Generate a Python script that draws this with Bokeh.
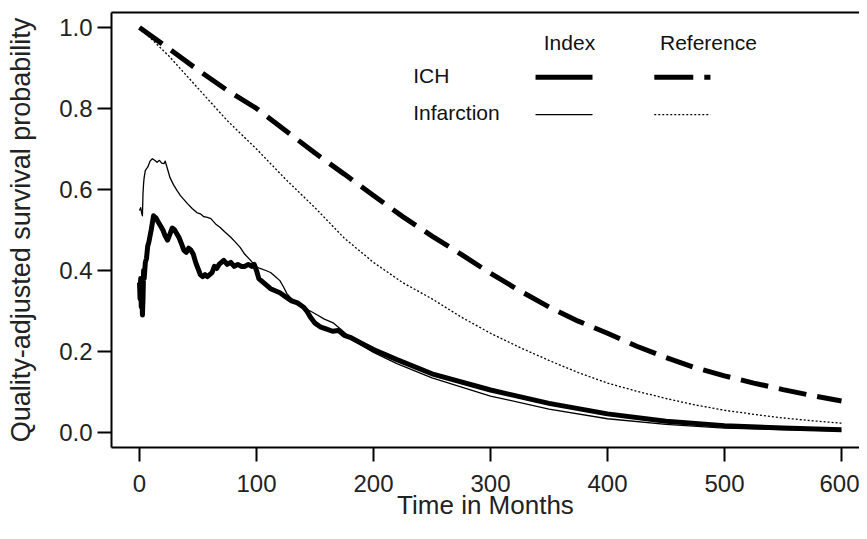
from bokeh.plotting import figure
from bokeh.models import Range1d, FixedTicker, PrintfTickFormatter, Label, LinearAxis
from bokeh.embed import file_html
from bokeh.resources import INLINE

# ---------------- data ----------------
x_ticks = [0, 100, 200, 300, 400, 500, 600]
y_ticks = [0.0, 0.2, 0.4, 0.6, 0.8, 1.0]

# ICH, index population (thick solid)
ich_idx_t = [0, 0.5, 1, 1.5, 2, 2.5, 3, 3.5, 4, 5, 6, 7, 8, 10, 12, 14, 16, 18, 20, 22, 24, 26,
             28, 30, 32, 34, 36, 38, 40, 42, 44, 46, 48, 50, 52, 54, 56, 58, 60, 62, 64, 66, 68,
             70, 72, 75, 78, 81, 84, 87, 90, 93, 96, 98, 100, 102, 104, 108, 112, 116, 120, 125,
             130, 135, 140, 143, 146, 150, 155, 160, 165, 170, 175, 180, 190, 200, 220, 250, 300,
             350, 400, 450, 500, 550, 600]
ich_idx_s = [0.37, 0.33, 0.38, 0.31, 0.36, 0.29, 0.33, 0.40, 0.38, 0.42, 0.43, 0.46, 0.47, 0.50,
             0.535, 0.53, 0.52, 0.51, 0.50, 0.485, 0.475, 0.49, 0.505, 0.50, 0.49, 0.48, 0.465,
             0.45, 0.445, 0.455, 0.45, 0.44, 0.42, 0.405, 0.39, 0.385, 0.39, 0.385, 0.39, 0.395,
             0.41, 0.405, 0.415, 0.42, 0.425, 0.415, 0.42, 0.41, 0.415, 0.41, 0.41, 0.415, 0.41,
             0.415, 0.40, 0.38, 0.375, 0.365, 0.355, 0.35, 0.345, 0.335, 0.325, 0.32, 0.31, 0.30,
             0.285, 0.27, 0.26, 0.255, 0.25, 0.252, 0.24, 0.235, 0.22, 0.205, 0.18, 0.145, 0.105,
             0.072, 0.046, 0.028, 0.017, 0.011, 0.007]

# Infarction, index population (thin solid)
inf_idx_t = [0, 1, 2, 2.5, 3, 3.5, 4, 5, 7, 9, 11, 13, 15, 17, 19, 21, 22, 24, 26, 29, 32, 35,
             38, 41, 45, 49, 52, 55, 58, 61, 65, 69, 73, 78, 82, 86, 90, 95, 99, 103, 108, 112,
             116, 120, 123, 126, 130, 136, 141, 146, 152, 158, 166, 172, 180, 190, 200, 220, 250,
             300, 350, 400, 450, 500, 550, 600]
inf_idx_s = [0.548, 0.555, 0.54, 0.535, 0.59, 0.615, 0.63, 0.647, 0.655, 0.67, 0.676, 0.672,
             0.667, 0.672, 0.665, 0.664, 0.67, 0.65, 0.63, 0.612, 0.598, 0.585, 0.575, 0.565,
             0.553, 0.543, 0.54, 0.533, 0.531, 0.528, 0.515, 0.506, 0.495, 0.482, 0.47, 0.457,
             0.44, 0.425, 0.41, 0.405, 0.40, 0.395, 0.385, 0.375, 0.36, 0.343, 0.33, 0.315, 0.305,
             0.30, 0.29, 0.28, 0.27, 0.255, 0.235, 0.215, 0.198, 0.17, 0.135, 0.09, 0.058, 0.034,
             0.02, 0.011, 0.007, 0.004]

# Reference populations
ref_t = [0, 25, 50, 75, 100, 125, 150, 175, 200, 225, 250, 275, 300, 325, 350, 375, 400, 425,
         450, 475, 500, 525, 550, 575, 600]
ich_ref_s = [1.0, 0.948, 0.895, 0.845, 0.80, 0.745, 0.69, 0.638, 0.585, 0.533, 0.485, 0.44,
             0.393, 0.35, 0.31, 0.275, 0.245, 0.213, 0.185, 0.16, 0.14, 0.122, 0.106, 0.091, 0.078]
inf_ref_s = [1.0, 0.93, 0.85, 0.77, 0.70, 0.625, 0.555, 0.48, 0.42, 0.37, 0.33, 0.285, 0.245,
             0.21, 0.178, 0.148, 0.122, 0.102, 0.084, 0.068, 0.055, 0.045, 0.036, 0.029, 0.023]

row_labels = ["ICH", "Infarction"]
col_labels = ["Index", "Reference"]
x_title = "Time in Months"
y_title = "Quality-adjusted survival probability"

# ---------------- styles ----------------
FONT = "Liberation Sans"
TXT = "#111111"
THICK = 5
THIN = 1.3
DASH = "28 11"
DOT = "2 2"
Y0, Y1 = -0.037, 1.037

p = figure(width=859, height=523, output_backend="svg", toolbar_location=None,
           x_range=Range1d(-23.93, 615.4), y_range=Range1d(Y0, Y1),
           min_border_left=111, min_border_right=0, min_border_top=12, min_border_bottom=76)
p.outline_line_color = None
p.grid.visible = False
p.background_fill_color = "white"
p.border_fill_color = "white"

p.xaxis.ticker = FixedTicker(ticks=x_ticks)
p.yaxis.ticker = FixedTicker(ticks=y_ticks)
p.yaxis.formatter = PrintfTickFormatter(format="%.1f")
for ax in (p.xaxis[0], p.yaxis[0]):
    ax.axis_line_width = 2
    ax.major_tick_line_width = 2
    ax.major_tick_out = 14
    ax.major_tick_in = 0
    ax.minor_tick_line_color = None
    ax.major_label_text_font = FONT
    ax.major_label_text_font_size = "24px"
    ax.major_label_text_color = "#222222"
    ax.axis_label_text_font = FONT
    ax.axis_label_text_font_style = "normal"
    ax.axis_label_text_color = "#222222"
p.xaxis.axis_label = x_title
p.yaxis.axis_label = y_title
p.xaxis.axis_label_text_font_size = "26px"
p.yaxis.axis_label_text_font_size = "27px"
p.xaxis.major_label_standoff = 13
p.yaxis.major_label_standoff = 5
p.xaxis.axis_label_standoff = -5
p.yaxis.axis_label_standoff = 20

# top border of the box: an unlabelled axis above the frame
top = LinearAxis(ticker=FixedTicker(ticks=x_ticks), major_tick_out=0, major_tick_in=0,
                 major_tick_line_color=None, minor_tick_line_color=None,
                 major_label_text_font_size="1px", major_label_text_color=None,
                 major_label_standoff=0, axis_line_width=2, axis_line_color="black")
p.add_layout(top, "above")

# ---------------- curves ----------------
p.line(ref_t, ich_ref_s, line_width=THICK, line_color="black", line_dash=DASH)
p.line(ref_t, inf_ref_s, line_width=THIN, line_color="black", line_dash=DOT)
p.line(inf_idx_t, inf_idx_s, line_width=THIN, line_color="black", line_join="round")
p.line(ich_idx_t, ich_idx_s, line_width=THICK, line_color="black", line_join="round")

# ---------------- legend (table layout) ----------------
row_y = [0.877, 0.785]          # sample lines
row_text_y = [0.881, 0.790]     # row labels
row_text_x = 234
col_x = [(338.5, 387.2), (440.0, 488.0)]
head_x = [367.5, 486.3]
head_y = 0.962
styles = [
    [dict(line_width=THICK, line_dash="solid"), dict(line_width=THICK, line_dash="39 11")],
    [dict(line_width=THIN, line_dash="solid"), dict(line_width=THIN, line_dash=DOT)],
]
for r, lab in enumerate(row_labels):
    p.add_layout(Label(x=row_text_x, y=row_text_y[r], text=lab, text_font=FONT,
                       text_font_size="21px", text_color=TXT, text_baseline="middle",
                       text_align="left"))
    for c in range(2):
        p.line(list(col_x[c]), [row_y[r], row_y[r]], line_color="black", **styles[r][c])
for c, lab in enumerate(col_labels):
    p.add_layout(Label(x=head_x[c], y=head_y, text=lab, text_font=FONT,
                       text_font_size="21px", text_color=TXT, text_baseline="middle",
                       text_align="center"))

open("out.html", "w").write(file_html(p, INLINE))
